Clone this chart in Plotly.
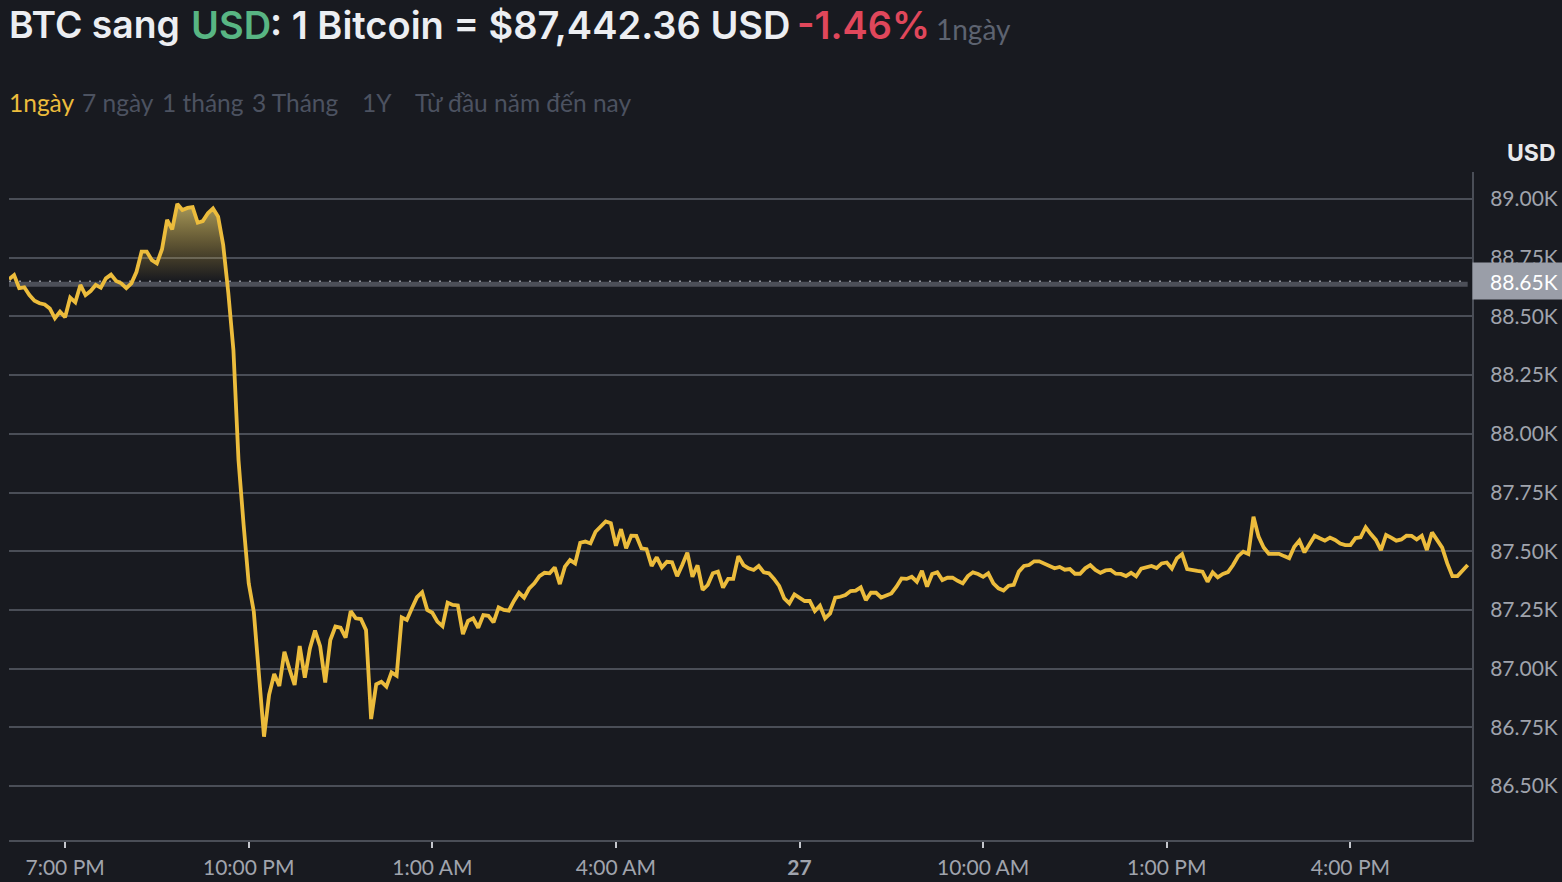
import pandas as pd
import plotly.graph_objects as go

W, H = 1562, 882
BG = "#181a20"
LINE = "#ecbc3c"
GRID = "#4a4e57"
TICKTXT = "#a0a4ad"
FONT = "Lato"
HEAD_FONT = "Inter"

# price in thousand USD, one sample every 5 minutes
PRICES = [
    88.658, 88.676, 88.620, 88.624, 88.591, 88.567, 88.556, 88.551, 88.534, 88.492,
    88.520, 88.496, 88.580, 88.560, 88.634, 88.591, 88.608, 88.634, 88.622, 88.662,
    88.678, 88.651, 88.641, 88.620, 88.641, 88.690, 88.776, 88.776, 88.740, 88.726,
    88.786, 88.911, 88.871, 88.979, 88.953, 88.962, 88.965, 88.899, 88.906, 88.939,
    88.960, 88.925, 88.804, 88.600, 88.357, 87.888, 87.612, 87.363, 87.242, 86.980,
    86.710, 86.888, 86.977, 86.926, 87.072, 86.997, 86.930, 87.096, 86.961, 87.086,
    87.162, 87.096, 86.941, 87.122, 87.179, 87.174, 87.132, 87.245, 87.214, 87.211,
    87.164, 86.785, 86.933, 86.944, 86.923, 86.984, 86.970, 87.218, 87.207, 87.257,
    87.304, 87.325, 87.250, 87.238, 87.200, 87.181, 87.281, 87.271, 87.269, 87.147,
    87.203, 87.214, 87.174, 87.228, 87.225, 87.197, 87.261, 87.250, 87.247, 87.288,
    87.323, 87.302, 87.342, 87.363, 87.394, 87.408, 87.406, 87.431, 87.360, 87.434,
    87.462, 87.448, 87.536, 87.541, 87.533, 87.583, 87.607, 87.627, 87.619, 87.523,
    87.594, 87.512, 87.566, 87.565, 87.512, 87.509, 87.437, 87.474, 87.431, 87.455,
    87.453, 87.394, 87.441, 87.494, 87.391, 87.440, 87.335, 87.356, 87.406, 87.413,
    87.345, 87.382, 87.382, 87.479, 87.441, 87.427, 87.420, 87.437, 87.410, 87.406,
    87.382, 87.352, 87.299, 87.278, 87.316, 87.303, 87.288, 87.288, 87.245, 87.268,
    87.214, 87.235, 87.302, 87.306, 87.313, 87.330, 87.332, 87.346, 87.292, 87.323,
    87.323, 87.303, 87.312, 87.320, 87.349, 87.384, 87.382, 87.391, 87.370, 87.416,
    87.349, 87.403, 87.410, 87.377, 87.387, 87.387, 87.374, 87.363, 87.394, 87.410,
    87.403, 87.391, 87.406, 87.363, 87.342, 87.333, 87.353, 87.357, 87.413, 87.437,
    87.441, 87.457, 87.457, 87.448, 87.437, 87.427, 87.433, 87.421, 87.424, 87.404,
    87.404, 87.427, 87.441, 87.420, 87.408, 87.418, 87.420, 87.404, 87.403, 87.394,
    87.408, 87.393, 87.426, 87.433, 87.437, 87.428, 87.448, 87.452, 87.426, 87.470,
    87.487, 87.424, 87.418, 87.416, 87.413, 87.370, 87.410, 87.389, 87.403, 87.411,
    87.441, 87.479, 87.498, 87.488, 87.647, 87.562, 87.516, 87.489, 87.489, 87.489,
    87.479, 87.470, 87.519, 87.545, 87.495, 87.533, 87.566, 87.555, 87.545, 87.558,
    87.548, 87.533, 87.526, 87.526, 87.556, 87.559, 87.602, 87.573, 87.548, 87.505,
    87.569, 87.558, 87.545, 87.550, 87.566, 87.565, 87.550, 87.566, 87.505, 87.580,
    87.550, 87.515, 87.448, 87.394, 87.394, 87.416, 87.441,
]
BASE_PRICE = 88.65
BAND_PRICE = 88.637

Y_TICKS = [86.5, 86.75, 87.0, 87.25, 87.5, 87.75, 88.0, 88.25, 88.5, 88.75, 89.0]
Y_LABELS = ["86.50K", "86.75K", "87.00K", "87.25K", "87.50K", "87.75K",
            "88.00K", "88.25K", "88.50K", "88.75K", "89.00K"]
X_TICKS = ["2025-03-26 19:00", "2025-03-26 22:00", "2025-03-27 01:00", "2025-03-27 04:00",
           "2025-03-27 07:00", "2025-03-27 10:00", "2025-03-27 13:00", "2025-03-27 16:00"]
X_LABELS = ["7:00 PM", "10:00 PM", "1:00 AM", "4:00 AM", "<b>27</b>",
            "10:00 AM", "1:00 PM", "4:00 PM"]

times = pd.date_range("2025-03-26 18:05", periods=len(PRICES), freq="5min")

# part of the line above the opening price, with the crossings put in
fill_x, fill_y = [], []
for i, (t, p) in enumerate(zip(times, PRICES)):
    if i > 0 and (PRICES[i - 1] - BASE_PRICE) * (p - BASE_PRICE) < 0:
        frac = (BASE_PRICE - PRICES[i - 1]) / (p - PRICES[i - 1])
        fill_x.append(times[i - 1] + (t - times[i - 1]) * frac)
        fill_y.append(BASE_PRICE)
    fill_x.append(t)
    fill_y.append(max(p, BASE_PRICE))

L, R, T, B = 9, 90, 172, 42
plot_w = W - L - R
plot_h = H - T - B

fig = go.Figure()
fig.add_trace(go.Scatter(x=[times[0], times[-1]], y=[BAND_PRICE, BAND_PRICE], mode="lines",
                         line=dict(color="#4c4f58", width=5)))
fig.add_trace(go.Scatter(x=fill_x, y=[BASE_PRICE] * len(fill_x), mode="lines",
                         line=dict(width=0, color=BG)))
fig.add_trace(go.Scatter(x=fill_x, y=fill_y, mode="lines", line=dict(width=0, color=BG),
                         fill="tonexty",
                         fillgradient=dict(type="vertical", colorscale=[
                             [0, "rgba(236,188,60,0.0)"], [1, "rgba(236,215,120,0.68)"]])))
fig.add_trace(go.Scatter(x=[times[0], times[-1]], y=[BASE_PRICE, BASE_PRICE], mode="lines",
                         line=dict(color="#8f929a", width=1.5, dash="2px,8px")))
fig.add_trace(go.Scatter(x=times, y=PRICES, mode="lines",
                         line=dict(color=LINE, width=3.8, shape="linear")))


def label(px, py, text, color, size, anchor="left", weight=None, family=FONT):
    fig.add_annotation(xref="paper", yref="paper", x=(px - L) / plot_w, y=(H - B - py) / plot_h,
                       text=text, showarrow=False, xanchor=anchor, yanchor="middle",
                       borderpad=0, font=dict(family=family, size=size, color=color, weight=weight))


# header
label(8, 25, "BTC sang", "#eceef2", 37.3, weight=600, family=HEAD_FONT)
label(190, 25, "USD", "#58b583", 38, weight=600, family=HEAD_FONT)
label(269, 25, ": 1 Bitcoin = $87,442.36 USD", "#eceef2", 38, weight=600, family=HEAD_FONT)
label(796, 25, "-1.46%", "#e0475b", 37.8, weight=600, family=HEAD_FONT)
label(935, 29, "1ngày", "#5d6370", 28)

# range selector
label(8, 102, "1ngày", LINE, 24.5)
label(81, 102, "7 ngày", "#4c5260", 24.5)
label(161, 102, "1 tháng", "#4c5260", 24.5)
label(251, 102, "3 Tháng", "#4c5260", 24.5)
label(361, 102, "1Y", "#4c5260", 24.5)
label(414, 102, "Từ đầu năm đến nay", "#4c5260", 24.5)

label(1557, 153, "USD", "#e8e9ec", 23, anchor="right", weight=700, family=HEAD_FONT)

# tag with the opening price
fig.add_annotation(xref="paper", yref="y", x=1, y=BASE_PRICE, text="88.65K&nbsp;", showarrow=False,
                   xanchor="left", yanchor="middle", align="right", width=R, height=36,
                   bgcolor="#9a9ea8", borderpad=0,
                   font=dict(family=FONT, size=21, color="#ffffff"))

fig.update_layout(
    width=W, height=H,
    margin=dict(l=L, r=R, t=T, b=B, pad=0),
    paper_bgcolor=BG, plot_bgcolor=BG,
    showlegend=False, hovermode=False,
    xaxis=dict(
        type="date", automargin=False,
        range=["2025-03-26 18:05", "2025-03-27 17:59:14"],
        tickmode="array", tickvals=X_TICKS, ticktext=X_LABELS,
        ticks="outside", ticklen=6, tickwidth=2, tickcolor="#c4c7cd", ticklabelstandoff=2,
        showgrid=False, zeroline=False,
        showline=True, linecolor=GRID, linewidth=2,
        tickfont=dict(family=FONT, size=21, color=TICKTXT),
    ),
    yaxis=dict(
        side="right", automargin=False,
        range=[86.27, 89.115],
        tickmode="array", tickvals=Y_TICKS, ticktext=Y_LABELS,
        ticks="", ticklabelstandoff=12,
        showgrid=True, gridcolor=GRID, gridwidth=2, zeroline=False,
        showline=True, linecolor=GRID, linewidth=2,
        tickfont=dict(family=FONT, size=21, color=TICKTXT),
    ),
)

fig.write_html("out.html", config=dict(displayModeBar=False),
               post_script="document.body.style.margin='0';document.body.style.background='%s';" % BG)
